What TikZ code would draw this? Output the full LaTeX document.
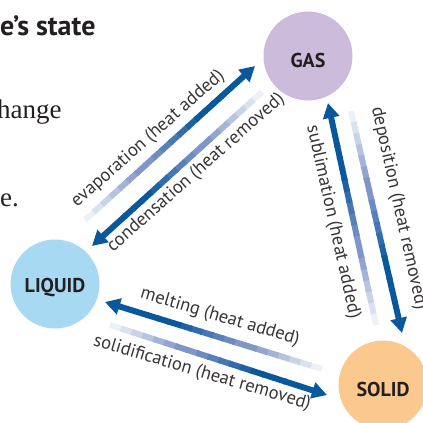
\documentclass[tikz,border=0pt]{standalone}
\usepackage{fontspec}
\usetikzlibrary{arrows.meta,calc}
\newfontfamily\labelsans{PT Sans}
\newfontfamily\pageserif{Liberation Serif}
\definecolor{arrowdark}{RGB}{10,88,156}
\definecolor{arrowmid}{RGB}{128,150,200}
\definecolor{arrowlight}{RGB}{236,241,248}
\definecolor{gasfill}{RGB}{204,187,218}
\definecolor{liquidfill}{RGB}{168,217,243}
\definecolor{solidfill}{RGB}{251,201,141}
\definecolor{inkgray}{RGB}{35,31,32}

\tikzset{
  statecircle/.style={circle, minimum size=89pt, inner sep=0pt},
  statetext/.style={font=\labelsans\bfseries\fontsize{20}{22}\selectfont, text=inkgray},
  changetext/.style={font=\labelsans\fontsize{18.5}{20}\selectfont, text=inkgray!90, inner sep=1pt},
  pagetext/.style={anchor=base west, inner sep=0pt, text=inkgray},
}

% faded arrow: light at the tail #1, dark with a head at #2
\newcommand{\fadearrow}[2]{%
  \foreach \k in {0,...,15}{%
    \pgfmathsetmacro{\ta}{0.05*\k}%
    \pgfmathsetmacro{\tb}{0.05*\k+0.06}%
    \ifnum\k<7
      \pgfmathsetmacro{\mixa}{\k*100/6}%
      \colorlet{segcol}{arrowmid!\mixa!arrowlight}%
    \else
      \pgfmathsetmacro{\mixa}{min(100,(\k-7)*100/6)}%
      \colorlet{segcol}{arrowdark!\mixa!arrowmid}%
    \fi
    \draw[line width=6pt, segcol] ($(#1)!\ta!(#2)$) -- ($(#1)!\tb!(#2)$);
  }%
  \draw[line width=6pt, arrowdark, -{Triangle[length=15pt,width=16pt]}] ($(#1)!0.8!(#2)$) -- (#2);
}

\begin{document}
\begin{tikzpicture}[x=1pt,y=-1pt]
\useasboundingbox (0,0) rectangle (423,423);
\clip (0,0) rectangle (423,423);

%page text cut off at the left
\node[pagetext, font=\labelsans\bfseries\fontsize{28}{32}\selectfont] (heading) at (0,35) {e’s state};
\node[pagetext, font=\pageserif\fontsize{27}{30}\selectfont] (bodyone) at (-3,118) {hange};
\node[pagetext, font=\pageserif\fontsize{27}{30}\selectfont] (bodytwo) at (0,206) {e.};

%states
\node[statecircle, fill=gasfill] (gas) at (308,56) {};
\node[statetext] (gasname) at ([yshift=-4pt]gas.center) {GAS};
\node[statecircle, fill=liquidfill] (liquid) at (55,284) {};
\node[statetext] (liquidname) at ([yshift=-4pt]liquid.center) {LIQUID};
\node[statecircle, fill=solidfill] (solid) at (383,385) {};
\node[statetext] (solidname) at ([yshift=-4pt]solid.center) {SOLID};

%arrow ends
\coordinate (evaptail) at (85,220);
\coordinate (evaphead) at (255,66);
\coordinate (condtail) at (262,92);
\coordinate (condhead) at (92,246);
\coordinate (melttail) at (322,369);
\coordinate (melthead) at (105,302);
\coordinate (soltail) at (110,325);
\coordinate (solhead) at (327,395);
\coordinate (sublitail) at (376,325);
\coordinate (sublihead) at (328,103);
\coordinate (depotail) at (351,111);
\coordinate (depohead) at (402,333);

\fadearrow{evaptail}{evaphead}
\fadearrow{condtail}{condhead}
\fadearrow{melttail}{melthead}
\fadearrow{soltail}{solhead}
\fadearrow{sublitail}{sublihead}
\fadearrow{depotail}{depohead}

%changes of state
\node[changetext, rotate=41.5] (evaplabel) at (148,139) {evaporation (heat added)};
\node[changetext, rotate=41.5] (condlabel) at (196,173) {condensation (heat removed)};
\node[changetext, rotate=-16.5] (meltlabel) at (220,317) {melting (heat added)};
\node[changetext, rotate=-16.5] (sollabel) at (202,373) {solidification (heat removed)};
\node[changetext, rotate=-77.5] (sublilabel) at (333,222) {sublimation (heat added)};
\node[changetext, rotate=-77.5, anchor=west] (depolabel) at (376,106) {deposition (heat removed)};
\end{tikzpicture}
\end{document}
